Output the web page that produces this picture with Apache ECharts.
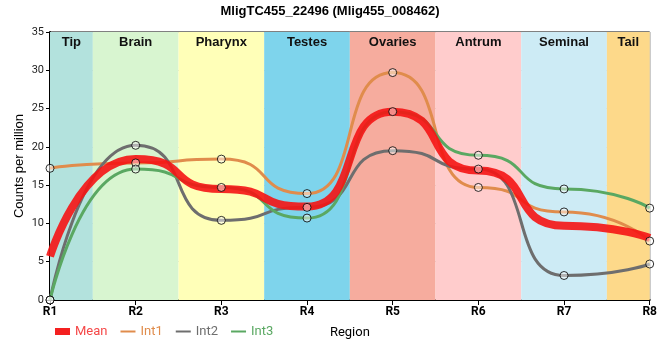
<!DOCTYPE html>
<html><head><meta charset="utf-8">
<script src="https://cdn.jsdelivr.net/npm/echarts@6/dist/echarts.min.js"></script>
<style>html,body{margin:0;padding:0;background:#fff}#c{width:660px;height:360px}</style>
</head><body><div id="c"></div>
<script>
var categories = ['R1','R2','R3','R4','R5','R6','R7','R8'];
var mean = [5.7, 18.4, 14.5, 12.2, 24.6, 16.9, 9.7, 8.1];
var int1 = [17.2, 17.9, 18.4, 13.9, 29.7, 14.7, 11.5, 7.7];
var int2 = [0, 20.2, 10.4, 12.1, 19.5, 17.1, 3.2, 4.7];
var int3 = [0, 17.1, 14.7, 10.7, 24.6, 18.9, 14.5, 12.0];
var regions = ['Tip','Brain','Pharynx','Testes','Ovaries','Antrum','Seminal','Tail'];
var regionColors = ['#b3e2dd','#d8f5d0','#ffffb8','#7ed4ec','#f6ac9e','#ffcccc','#cdebf5','#fdd98a'];
var yTicks = [0,5,10,15,20,25,30,35];

function pts(arr){ return arr.map(function(v,i){ return [i+1, v]; }); }
var areas = regions.map(function(r,i){
  var a = i === 0 ? 1 : i + 0.5;
  var b = i === regions.length-1 ? regions.length : i + 1.5;
  return [{name: r, xAxis: a, itemStyle:{color: regionColors[i]}}, {xAxis: b}];
});
var colors = {Mean:'#f42020', Int1:'#e08c4c', Int2:'#6e6e6e', Int3:'#5aa862'};
var chart = echarts.init(document.getElementById('c'));
function lineSeries(name, data, color, width, z){
  return {name:name, type:'line', data:pts(data), smooth:0.65, smoothMonotone:'x',
    showSymbol:false, symbol:'none', lineStyle:{color:color, width:width}, itemStyle:{color:color}, z:z};
}
function markerSeries(data){
  return {type:'scatter', data:pts(data), symbol:'circle', symbolSize:8,
    itemStyle:{color:'rgba(255,255,255,0.6)', borderColor:'#000', borderWidth:1}, z:10, silent:true};
}
var series = [
  {type:'line', data:[], markArea:{silent:true, data:areas,
    label:{show:true, position:'insideTop', color:'#111', fontWeight:'bold', fontSize:13, fontFamily:'Liberation Sans, Arial', distance:4}}, z:0},
  lineSeries('Int1', int1, colors.Int1, 3, 2),
  lineSeries('Int2', int2, colors.Int2, 3, 2),
  lineSeries('Int3', int3, colors.Int3, 3, 2),
  lineSeries('Mean', mean, 'rgba(245,20,20,0.9)', 8, 3),
  markerSeries(int1), markerSeries(int2), markerSeries(int3)
];
chart.setOption({
  animation:false,
  title:{text:'MligTC455_22496 (Mlig455_008462)', left:'center', top:0,
    textStyle:{fontSize:13, fontWeight:'bold', color:'#000', fontFamily:'Liberation Sans, Arial'}},
  grid:{left:50, right:10, top:32, bottom:60, show:true, borderColor:'#000', borderWidth:1, backgroundColor:'transparent'},
  legend:{data:[{name:'Mean', icon:'rect', itemStyle:{color:colors.Mean}, textStyle:{color:'#f54848'}},
      {name:'Int1', itemStyle:{opacity:0}, textStyle:{color:colors.Int1}},
      {name:'Int2', itemStyle:{opacity:0}, textStyle:{color:colors.Int2}},
      {name:'Int3', itemStyle:{opacity:0}, textStyle:{color:colors.Int3}}],
    left:50, bottom:17, itemWidth:15, itemHeight:7, itemGap:12,
    textStyle:{fontSize:13, fontFamily:'Roboto, Liberation Sans'}},
  xAxis:{type:'value', min:1, max:8, interval:1, name:'Region', nameLocation:'middle', nameGap:26,
    nameTextStyle:{color:'#000', fontSize:13, fontFamily:'Roboto, Liberation Sans'},
    axisLine:{lineStyle:{color:'#000', width:2}}, axisTick:{show:true, length:5, lineStyle:{color:'#000'}},
    axisLabel:{formatter:function(v){return categories[v-1];}, color:'#000', fontWeight:'bold', fontSize:12, fontFamily:'Roboto, Liberation Sans', margin:6},
    splitLine:{show:true, lineStyle:{color:'#c8c8c8', width:1}}},
  yAxis:{type:'value', min:0, max:35, interval:5, name:'Counts per million', nameLocation:'middle', nameGap:24, nameMoveOverlap:false,
    nameTextStyle:{color:'#000', fontSize:13, fontFamily:'Liberation Sans, Arial'},
    axisLine:{show:true, lineStyle:{color:'#000', width:2}}, axisTick:{show:true, length:4, lineStyle:{color:'#000'}},
    axisLabel:{color:'#222', fontSize:11, fontFamily:'Roboto, Liberation Sans', margin:6,
      formatter:function(v){return yTicks.indexOf(v) >= 0 ? String(v) : '';}},
    splitLine:{show:true, lineStyle:{color:'#c8c8c8', width:1}}},
  series:series
});
</script></body></html>
